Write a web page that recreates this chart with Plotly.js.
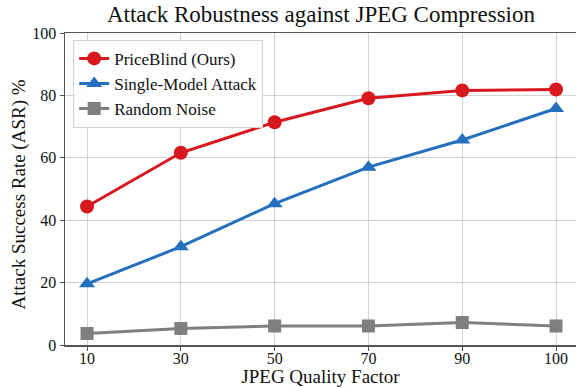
<!DOCTYPE html>
<html>
<head>
<meta charset="utf-8">
<script src="https://cdn.plot.ly/plotly-3.0.1.min.js"></script>
<style>html,body{margin:0;padding:0;background:#fff;overflow:hidden}#chart{width:576px;height:387px}</style>
</head>
<body>
<div id="chart"></div>
<script>
const qualityFactors = ["10", "30", "50", "70", "90", "100"];
const priceBlind = [44.4, 61.6, 71.4, 79.1, 81.6, 81.9];
const singleModel = [19.6, 31.5, 45.3, 57.0, 65.7, 75.8];
const randomNoise = [3.7, 5.3, 6.1, 6.1, 7.2, 6.1];
const yTicks = [0, 20, 40, 60, 80, 100];

const serif = "Liberation Serif";
const ink = "#111111";

const traces = [
  {x: qualityFactors, y: priceBlind, name: "PriceBlind (Ours)", mode: "lines+markers",
   line: {color: "#d7191f", width: 3}, marker: {symbol: "circle", size: 14, color: "#d7191f"}},
  {x: qualityFactors, y: singleModel, name: "Single-Model Attack", mode: "lines+markers",
   line: {color: "#2470bf", width: 3}, marker: {symbol: "triangle-up", size: 14, color: "#2470bf"}},
  {x: qualityFactors, y: randomNoise, name: "Random Noise", mode: "lines+markers",
   line: {color: "#7f7f7f", width: 3}, marker: {symbol: "square", size: 13, color: "#7f7f7f"}}
];

const layout = {
  width: 576, height: 387,
  margin: {l: 65, r: 0, t: 33, b: 42},
  paper_bgcolor: "#ffffff", plot_bgcolor: "#ffffff",
  font: {family: serif, color: ink, size: 16},
  title: {text: "Attack Robustness against JPEG Compression", font: {family: serif, size: 23, color: ink},
          x: 321 / 576, xanchor: "center", y: 0.985, yanchor: "top"},
  xaxis: {type: "category", range: [-0.235, 5.213], showgrid: true, gridcolor: "#d3d3d3", gridwidth: 1,
          showline: true, linecolor: "#555", linewidth: 1.5, mirror: true,
          ticks: "outside", ticklen: 4, tickcolor: "#555", ticklabelstandoff: -6,
          tickfont: {family: serif, size: 16, color: ink},
          title: {text: "JPEG Quality Factor", font: {family: serif, size: 19, color: ink}, standoff: 8},
          zeroline: false},
  yaxis: {range: [0, 100], tickvals: yTicks, showgrid: true, gridcolor: "#d3d3d3", gridwidth: 1,
          showline: true, linecolor: "#555", linewidth: 1.5,
          ticks: "outside", ticklen: 4, tickcolor: "#555",
          tickfont: {family: serif, size: 16, color: ink},
          zeroline: false},
  annotations: [{text: "Attack Success Rate (ASR) %", xref: "paper", yref: "paper",
                 x: -46 / 511, y: (345 - 194.5) / 312, xanchor: "center", yanchor: "middle",
                 textangle: -90, showarrow: false, font: {family: serif, size: 19, color: ink}}],
  legend: {x: 0.016, y: 0.978, xanchor: "left", yanchor: "top", bgcolor: "rgba(255,255,255,0.9)",
           bordercolor: "#d0d0d0", borderwidth: 1, font: {family: serif, size: 17, color: ink},
           tracegroupgap: 0},
  showlegend: true
};

Plotly.newPlot("chart", traces, layout, {displayModeBar: false, staticPlot: true});
</script>
</body>
</html>
